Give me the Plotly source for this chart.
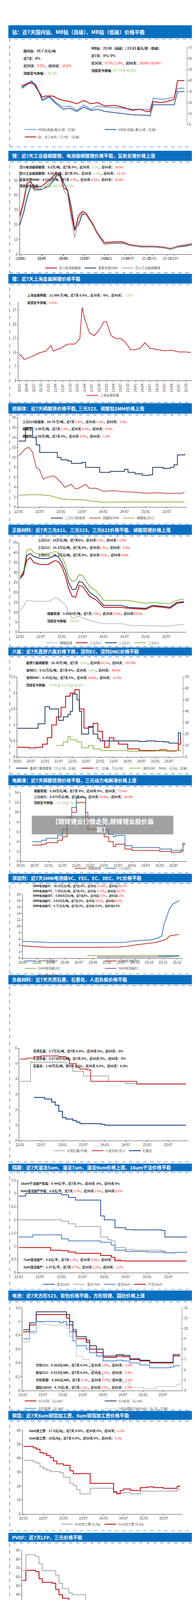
import plotly.graph_objects as go

H = 4275
FONT = "Noto Sans CJK SC"
RED = "#C00000"
NAVY = "#1F3864"
BLUE = "#4472C4"
GRAY = "#A6A6A6"
GREEN = "#8DB849"
R = "#FF0000"
G = "#7CC24A"

# ---------------- data (dates as yy-mm) ----------------
# 钴
co_x_red = ["22-01", "22-03", "22-05", "22-06", "22-07", "22-08", "22-10", "22-12", "23-01", "23-03", "23-05", "23-07", "23-09", "23-11", "24-01", "24-04", "24-06", "24-09", "24-11", "25-01", "25-02", "25-03", "25-05", "25-07", "25-09", "25-10", "25-12"]
co_red = [35, 38, 37, 30, 25, 26, 26, 23, 22, 21, 19, 22, 19, 20, 17, 17.5, 16, 13, 14, 12, 12, 21, 20, 21, 23, 40, 40]
co_x_mb = ["22-01", "22-04", "22-06", "22-07", "22-09", "22-11", "23-01", "23-03", "23-05", "23-07", "23-09", "23-11", "24-01", "24-06", "24-09", "25-01", "25-02", "25-03", "25-06", "25-09", "25-10", "25-12"]
co_mb_high = [34, 40, 30, 23, 26, 20, 16, 17, 13, 18, 14, 17, 16, 15, 14, 14, 13, 24, 23, 25, 33, 33]
co_mb_low = [33, 39, 30, 22, 25, 19, 14, 15, 12, 16, 13, 14, 12, 10, 9, 8.5, 8, 18, 18, 18, 30, 30]

# 锂
li_x = ["22-01", "22-02", "22-03", "22-04", "22-05", "22-07", "22-09", "22-11", "22-12", "23-01", "23-02", "23-03", "23-04", "23-05", "23-06", "23-07", "23-09", "23-10", "23-12", "24-03", "24-05", "24-07", "24-10", "25-01", "25-04", "25-06", "25-08", "25-10", "25-12"]
li_battery = [28, 38, 50, 51, 47, 48, 52, 57, 55, 47, 45, 30, 18, 28, 31, 30, 22, 17, 10, 10.5, 10.5, 8.5, 7.5, 7.5, 7, 6, 7.5, 8.5, 9.3]
li_lioh = [22, 30, 40, 48, 46, 46, 48, 55, 56, 50, 45, 35, 19, 22, 29, 29, 21, 16, 9, 9.5, 9.5, 8, 7, 7, 6.5, 5.5, 7, 7.5, 8.6]
li_industrial = [26, 35, 48, 49, 45, 45.5, 50, 56, 54, 45, 42, 27, 13, 26, 30, 29, 21, 16, 9.2, 9.8, 9.8, 8, 7.2, 7.2, 6.7, 5.8, 7.2, 8.2, 9.05]

# 镍
ni_x = ["20-01", "20-03", "20-06", "20-09", "20-12", "21-02", "21-03", "21-06", "21-09", "21-12", "22-02", "22-03", "22-04", "22-06", "22-08", "22-10", "22-12", "23-01", "23-03", "23-05", "23-07", "23-09", "23-11", "24-01", "24-03", "24-05", "24-07", "24-10", "25-01", "25-04", "25-07", "25-10", "25-12"]
ni_price = [11.5, 9.5, 10.5, 11.8, 12.5, 14.5, 12.5, 13.5, 15, 15, 17, 28, 24, 19, 18, 20, 23, 23, 18, 17, 17, 15.5, 13, 13, 13.5, 15.5, 13.5, 13, 12.6, 12.8, 12.2, 12.2, 12]

# 前驱体
pre_x_523 = ["22-01", "22-02", "22-03", "22-04", "22-05", "22-06", "22-07", "22-10", "22-12", "23-01", "23-03", "23-04", "23-06", "23-07", "23-08", "23-10", "23-12", "24-03", "24-06", "24-07", "24-08", "24-10", "24-12", "25-02", "25-03", "25-04", "25-06", "25-08", "25-09", "25-10", "25-12"]
pre_523 = [13.3, 13.3, 16, 16, 14, 12.5, 11, 11, 10, 9.5, 9.3, 8.8, 8.8, 9, 8, 8, 7, 7.2, 7.2, 7.6, 7, 6.7, 6.4, 6.5, 8, 8, 7.8, 8, 8.5, 10.5, 10.7]
pre_x_co = ["22-01", "22-03", "22-04", "22-05", "22-06", "22-07", "22-08", "22-09", "22-11", "23-01", "23-02", "23-04", "23-05", "23-06", "23-08", "23-09", "23-11", "24-01", "24-04", "24-07", "24-10", "25-01", "25-04", "25-07", "25-11", "25-12"]
pre_coso4 = [10.3, 11.8, 12, 11, 8, 7.5, 5.6, 6, 6.3, 5, 4, 4.6, 3.7, 3.8, 4.6, 3.8, 3.8, 3.2, 3.3, 3.1, 3.0, 2.8, 2.9, 2.8, 2.8, 2.96]
pre_x_fe = ["22-01", "22-04", "22-07", "22-10", "23-01", "23-04", "23-07", "23-10", "24-01", "24-06", "25-01", "25-12"]
pre_fepo4 = [2.4, 2.5, 2.5, 2.3, 1.7, 1.5, 1.5, 1.2, 1.0, 1.05, 1.05, 1.06]

# 正极材料
cat_x_lfp = ["22-01", "22-02", "22-03", "22-06", "22-09", "22-10", "22-11", "22-12", "23-01", "23-02", "23-03", "23-04", "23-05", "23-06", "23-07", "23-09", "23-11", "24-01", "24-06", "24-09", "25-01", "25-06", "25-09", "25-12"]
cat_lfp = [11, 13, 16, 15.5, 15.5, 16, 17.5, 17, 15, 14, 10, 7, 7.5, 8, 7, 6, 5, 4.3, 4.3, 3.3, 3.3, 3.0, 3.4, 3.95]
cat_x = ["22-01", "22-02", "22-03", "22-04", "22-05", "22-07", "22-09", "22-11", "22-12", "23-01", "23-02", "23-03", "23-04", "23-05", "23-06", "23-07", "23-09", "23-11", "24-01", "24-06", "24-08", "25-01", "25-03", "25-06", "25-08", "25-10", "25-12"]
cat_523 = [27, 30, 36, 37.5, 35, 34, 34, 36, 35.5, 33, 28, 22, 18, 17.5, 23.5, 23, 18, 16, 12.5, 12.5, 12, 11.5, 13, 12.5, 12, 14.5, 15]
cat_622 = [27, 29, 38.5, 39.5, 38, 37, 37, 38.5, 38, 35, 31, 25, 21.5, 21.5, 25.5, 25, 20, 17.5, 13.5, 13.5, 12.5, 12, 13.5, 13, 12.5, 15, 15.3]
cat_811 = [28, 31, 41, 42, 40, 39, 39.5, 40.5, 40, 38, 34, 28, 25.5, 26, 29, 28.5, 23, 20.5, 16, 16, 16, 14.5, 15, 14.5, 14.5, 16, 16.7]

# 六氟
f6_x_lipf6 = ["20-01", "20-09", "20-10", "20-12", "21-01", "21-03", "21-06", "21-07", "21-09", "21-11", "21-12", "22-01", "22-02", "22-03", "22-04", "22-05", "22-07", "22-08", "22-09", "22-10", "22-12", "23-01", "23-07", "24-01", "24-06", "24-09", "25-01", "25-05", "25-07", "25-10", "25-11", "25-12"]
f6_lipf6 = [25, 25, 29, 29, 44, 42, 42, 32, 35, 37, 40, 55, 55, 50, 40, 20, 20, 26, 26, 20, 16, 14, 14, 14, 13.5, 14, 13.5, 13, 12, 12, 21, 17]
f6_x_ec = ["20-01", "20-06", "20-09", "20-12", "21-02", "21-04", "21-06", "21-08", "21-10", "21-12", "22-02", "22-04", "22-06", "22-08", "22-10", "22-12", "23-02", "23-03", "23-05", "23-07", "23-09", "24-01", "24-06", "24-12", "25-03", "25-06", "25-10", "25-11", "25-12"]
f6_ec = [0.3, 0.28, 0.3, 0.4, 0.6, 1.0, 1.25, 1.55, 1.9, 2.0, 2.1, 1.5, 0.9, 0.95, 1.05, 0.8, 0.5, 0.3, 0.6, 0.5, 0.4, 0.25, 0.2, 0.2, 0.22, 0.18, 0.2, 0.4, 0.62]
f6_x_dmc = ["21-06", "21-09", "21-11", "21-12", "22-03", "22-05", "22-08", "22-10", "23-01", "23-07", "24-01", "24-07", "25-01", "25-06", "25-12"]
f6_dmc = [10, 13, 18, 15, 13, 8, 10, 7, 5.5, 5.5, 5, 5, 5.2, 5.5, 6.35]

# 电解液
el_x = ["20-06", "20-10", "20-12", "21-03", "21-05", "21-07", "21-09", "21-11", "22-01", "22-04", "22-05", "22-06", "22-10", "23-01", "23-03", "23-05", "23-06", "23-08", "23-10", "24-01", "24-07", "25-01", "25-06", "25-09", "25-10", "25-11", "25-12"]
el_lfp = [3.3, 3.5, 3.8, 3.8, 4.3, 5, 8, 10, 12, 12, 8, 6.5, 6.5, 5, 4, 3, 3.5, 3.5, 2.5, 2.2, 2.2, 2.0, 1.8, 1.8, 2.0, 3.38, 3.38]
el_ncm = [4, 4.3, 4.7, 4.7, 5.3, 6.5, 9, 11, 13, 13, 10, 8.7, 8.5, 6.5, 5.5, 5, 5.3, 5.3, 3.2, 2.8, 2.8, 2.5, 2.2, 2.2, 2.3, 3.67, 3.67]

# 添加剂 (daily dates, 2025)
ad_x_vc = ["2025-05-01", "2025-05-20", "2025-06-10", "2025-07-01", "2025-08-01", "2025-09-01", "2025-09-25", "2025-10-05", "2025-10-20", "2025-11-01", "2025-11-10", "2025-11-15", "2025-11-18", "2025-11-22", "2025-11-26", "2025-12-01", "2025-12-10"]
ad_vc = [5.3, 5.1, 4.9, 4.9, 4.9, 4.9, 5.0, 5.4, 5.6, 5.8, 6.4, 7, 10.5, 13, 15.5, 17, 18.1]
ad_x_fec = ["2025-05-01", "2025-05-20", "2025-06-10", "2025-08-01", "2025-09-15", "2025-09-25", "2025-10-10", "2025-10-25", "2025-11-05", "2025-11-15", "2025-11-22", "2025-11-26", "2025-12-01", "2025-12-10"]
ad_fec = [3.9, 3.6, 3.4, 3.4, 3.5, 3.7, 4.2, 4.6, 4.9, 5.5, 6.0, 7, 7.2, 7.4]
ad_x_dec = ["2025-08-01", "2025-12-10"]
ad_dec = [0.85, 0.89]
ad_x_ec = ["2025-08-15", "2025-11-20", "2025-12-10"]
ad_ec = [0.4, 0.45, 0.62]
ad_x_pc = ["2025-11-10", "2025-12-10"]
ad_pc = [0.7, 0.71]

# 负极材料
an_x_nat = ["22-01", "22-03", "22-04", "23-01", "23-02", "23-04", "23-06", "23-07", "24-01", "24-02", "24-06", "24-07", "25-12"]
an_nat = [3.85, 3.85, 5.1, 5.1, 4.85, 4.5, 4.5, 4.2, 4.2, 3.85, 3.85, 3.7, 3.7]
an_x_art = ["22-01", "22-03", "22-05", "22-07", "22-11", "22-12", "23-02", "23-03", "23-05", "23-06", "23-08", "23-09", "24-01", "24-09", "24-10", "25-12"]
an_art = [5.3, 5.35, 5.45, 5.5, 5.5, 5.45, 5.3, 5.0, 4.75, 4.65, 4.6, 3.85, 3.85, 3.85, 3.67, 3.67]
an_x_gr = ["22-05", "22-08", "22-10", "22-11", "22-12", "23-01", "23-02", "23-04", "23-05", "23-06", "23-12", "24-01", "25-12"]
an_gr = [2.8, 2.7, 2.5, 2.3, 1.9, 1.5, 1.4, 1.3, 1.2, 1.1, 1.05, 1.0, 1.0]

# 隔膜
se_x_5 = ["22-01", "22-03", "23-01", "23-03", "23-05", "23-11", "23-12", "24-01", "24-03", "24-04", "24-07", "24-09", "25-05", "25-06", "25-12"]
se_5 = [2.9, 3.0, 2.95, 2.85, 2.75, 2.75, 2.15, 2.0, 2.0, 1.7, 1.63, 1.62, 1.6, 1.35, 1.37]
se_x_7 = ["22-01", "22-12", "23-01", "23-03", "23-05", "23-11", "23-12", "24-02", "24-03", "24-04", "24-07", "24-09", "25-05", "25-06", "25-09", "25-12"]
se_7 = [2.0, 2.0, 1.95, 1.85, 1.75, 1.75, 1.35, 1.25, 1.2, 0.95, 0.88, 0.85, 0.82, 0.75, 0.77, 0.8]
se_x_9 = ["22-01", "22-05", "23-01", "23-03", "23-11", "23-12", "24-03", "24-04", "24-07", "25-01", "25-06", "25-09", "25-12"]
se_9 = [1.35, 1.43, 1.28, 1.2, 1.2, 1.15, 1.05, 0.85, 0.8, 0.78, 0.75, 0.77, 0.8]
se_x_16 = ["22-01", "22-10", "23-01", "23-03", "23-05", "23-11", "23-12", "24-03", "24-04", "24-07", "25-12"]
se_16 = [0.95, 0.85, 0.83, 0.78, 0.73, 0.73, 0.65, 0.58, 0.45, 0.44, 0.44]

# 电池
ba_x = ["22-01", "22-03", "22-05", "22-12", "23-01", "23-02", "23-03", "23-04", "23-05", "23-08", "23-09", "23-11", "24-01", "24-05", "24-07", "24-09", "24-12", "25-03", "25-09", "25-10", "25-12"]
ba_523sq = [0.85, 0.95, 1.1, 1.1, 1.1, 1.05, 0.95, 0.85, 0.75, 0.7, 0.6, 0.55, 0.48, 0.5, 0.49, 0.45, 0.43, 0.4, 0.4, 0.5, 0.503]
ba_523soft = [0.88, 0.98, 1.14, 1.14, 1.14, 1.1, 1.0, 0.88, 0.78, 0.73, 0.65, 0.6, 0.5, 0.52, 0.51, 0.46, 0.44, 0.41, 0.41, 0.52, 0.523]
ba_lfp = [0.75, 0.85, 1.0, 0.98, 1.0, 0.95, 0.85, 0.72, 0.65, 0.6, 0.55, 0.5, 0.43, 0.44, 0.43, 0.4, 0.37, 0.33, 0.34, 0.36, 0.366]
ba_x_cyl = ["22-01", "22-03", "22-05", "22-07", "22-09", "23-01", "23-02", "23-03", "23-05", "23-07", "23-09", "23-11", "24-01", "24-06", "24-09", "25-01", "25-05", "25-09", "25-11", "25-12"]
ba_cyl = [8.7, 9.5, 10.6, 10.4, 10.3, 10.3, 10, 9.2, 7.3, 7.0, 6.0, 5.6, 5.1, 4.8, 4.3, 4.2, 4.4, 4.4, 4.6, 4.75]

# 铜箔
cu_x_6 = ["22-01", "22-04", "22-05", "22-06", "22-07", "22-08", "22-09", "22-10", "22-11", "23-01", "23-03", "23-04", "23-09", "24-04", "24-05", "24-06", "24-07", "24-09", "24-12", "25-02", "25-04", "25-07", "25-11", "25-12"]
cu_6 = [48.5, 47.5, 46.5, 44, 43.5, 42, 40.5, 38, 36, 35, 31, 29, 22, 16, 14.5, 17, 18, 17, 19, 19.5, 19, 18.5, 20, 20]
cu_x_8 = ["22-01", "22-04", "22-05", "22-06", "22-07", "22-08", "22-09", "22-12", "23-01", "23-03", "23-04", "23-05", "23-06", "23-09", "24-04", "24-05", "24-07", "24-09", "24-12", "25-11", "25-12"]
cu_8 = [38.5, 37.5, 36.5, 34, 32.5, 31.5, 30.5, 29.5, 26.5, 22, 20.5, 17.5, 14.5, 18.5, 15.5, 15, 15.5, 14.5, 16.5, 17.5, 17.5]

# PVDF
pv_x_ncm = ["22-01", "22-02", "22-05", "22-06", "22-07", "22-11", "22-12", "23-01", "23-03", "23-04", "23-08", "23-10", "23-12", "24-04", "24-06", "24-10", "25-12"]
pv_ncm = [67, 85, 83, 75, 67, 62, 53, 47, 42, 40, 32, 21, 19, 15, 12, 11.95, 11.95]
pv_x_lfp = ["22-01", "22-02", "22-05", "22-06", "22-07", "22-10", "22-11", "22-12", "23-01", "23-03", "23-04", "23-07", "23-08", "23-11", "24-04", "24-10", "25-01", "25-12"]
pv_lfp = [56, 67.5, 66, 58, 54, 53, 46, 40, 36, 33, 27, 21, 13.5, 11, 6, 5.6, 6, 6]


def d(xs):
    return ["20" + s for s in xs]


def py(y):
    return 1 - y / H


fig = go.Figure()
layout = dict(width=500, height=H, margin=dict(l=0, r=0, t=0, b=0),
              paper_bgcolor="white", plot_bgcolor="rgba(0,0,0,0)",
              font=dict(family=FONT, size=8, color="#404040"), showlegend=True)
shapes, annos = [], []

# panel: title, title top, title bottom, box bottom, plot top, plot bottom, x range, y range, dtick, x fmt, x0, x1
panels = [
    ("钴：近7天国内钴、MB钴（高级）、MB钴（低级）价格平稳", 50, 83, 362, 107, 305, ["2021-12-25", "2025-12-20"], [0.05, 0.47], 0.06, "%y-%m", 0.07, 0.94),
    ("锂：近7天工业级碳酸锂、电池级碳酸锂价格平稳，氢氧化锂价格上涨", 372, 398, 685, 425, 638, ["2022-01-01", "2025-12-15"], [2, 58], 10, "%y/%m", 0.065, 0.98),
    ("镍：近7天上海金属网镍价格平稳", 688, 713, 1018, 760, 962, ["2019-12-20", "2025-12-20"], [2, 30], 5, "%y/%m", 0.058, 0.97),
    ("前驱体：近7天磷酸铁价格平稳, 三元523、硫酸钴SMM价格上涨", 1020, 1047, 1330, 1057, 1287, ["2021-12-25", "2025-12-20"], [0, 18], 2, "%y/%m", 0.055, 0.94),
    ("正极材料：近7天三元811、三元523、三元622价格平稳、磷酸铁锂价格上涨", 1332, 1358, 1645, 1378, 1608, ["2021-12-25", "2025-12-20"], [0, 45], 5, "%y/%m", 0.062, 0.937),
    ("六氟：近7天鑫锣六氟价格下跌，溶剂EC、溶剂DMC价格平稳", 1647, 1668, 1972, 1723, 1928, ["2020-01-01", "2025-12-31"], [0, 2.5], 0.5, "%y/%m", 0.052, 0.92),
    ("电解液：近7天磷酸铁锂价格平稳，三元动力电解液价格上涨", 1975, 2001, 2225, 2020, 2196, ["2020-01-01", "2025-12-20"], [0, 14], 2, "%y/%m", 0.07, 0.94),
    ("添加剂：近7天SMM电池级VC、FEC、EC、DEC、PC价格平稳", 2228, 2250, 2485, 2281, 2445, ["2025-05-01", "2025-12-15"], [0, 20], 2, "%y/%m", 0.08, 0.92),
    ("负极材料：近7天天然石墨、石墨化、人造负极价格平稳", 2488, 2512, 2968, 2676, 2913, ["2021-12-25", "2025-12-20"], [0, 6], 1, "%y/%m", 0.062, 0.948),
    ("隔膜：近7天湿法5um、湿法7um、湿法9um价格上涨、16um干法价格平稳", 2972, 2992, 3295, 3015, 3252, ["2021-12-25", "2025-12-20"], [0, 3.5], 0.5, "%y/%m", 0.055, 0.95),
    ("电池：近7天方形523、软包价格平稳，方形铁锂、圆柱价格上涨", 3298, 3324, 3605, 3342, 3555, ["2021-12-25", "2025-12-20"], [0, 1.2], 0.2, "%y/%m", 0.078, 0.915),
    ("铜箔：近7天8um铜箔加工费、6um铜箔加工费价格平稳", 3607, 3630, 3915, 3657, 3872, ["2021-12-25", "2025-12-20"], [0, 60], 10, "%y/%m", 0.08, 0.918),
    ("PVDF：近7天LFP、三元价格平稳", 3920, 3943, 4272, 3965, 4170, ["2021-12-25", "2025-12-20"], [0, 90], 10, "%y/%m", 0.075, 0.91),
]

AX = dict(showgrid=False, showline=True, linecolor="#404040", ticks="outside", ticklen=3,
          tickfont=dict(size=8.5), zeroline=False)

for i, (title, t0, t1, b1, p0, p1, xr, yr, dt, xf, x0, x1) in enumerate(panels, start=1):
    shapes.append(dict(type="rect", xref="paper", yref="paper", x0=0.005, x1=0.99, y0=py(t1), y1=py(t0),
                       fillcolor="#0B6FC0", line=dict(width=0), layer="below"))
    shapes.append(dict(type="rect", xref="paper", yref="paper", x0=0.012, x1=0.985, y0=py(b1), y1=py(t1 + 3),
                       line=dict(color="#2E5FA8", width=1.2, dash="dash"), fillcolor="rgba(0,0,0,0)"))
    annos.append(dict(text="<b>" + title + "</b>", xref="paper", yref="paper", x=0.02, y=py((t0 + t1) / 2),
                      xanchor="left", yanchor="middle", showarrow=False,
                      font=dict(color="white", size=12 if i > 1 else 13, family=FONT)))
    sfx = "" if i == 1 else str(i)
    layout["xaxis" + sfx] = dict(domain=[x0, x1], anchor="y" + sfx, type="date", range=xr,
                                 tickformat=xf, dtick="M6", tick0="2022-01-01", **AX)
    layout["yaxis" + sfx] = dict(domain=[py(p1), py(p0)], anchor="x" + sfx, range=yr, dtick=dt, **AX)

# special axis tweaks
layout["yaxis2"].update(tickvals=[2, 12, 22, 32, 42, 52])
layout["yaxis3"].update(tickvals=[2, 7, 12, 17, 22, 27])
layout["xaxis3"].update(dtick="M3", tickangle=-90, tick0="2020-01-01")
layout["xaxis6"].update(tick0="2020-01-01")
layout["xaxis7"].update(tick0="2020-01-01")
layout["xaxis8"].update(dtick=20 * 86400000, tick0="2025-05-01")
# right-hand axes: separate axes sharing the panel's domain
RAX = dict(AX, linecolor="#808080")
layout["yaxis14"] = dict(domain=layout["yaxis"]["domain"], side="right", anchor="x", range=[0, 70], dtick=10, **RAX)
layout["yaxis15"] = dict(domain=layout["yaxis6"]["domain"], side="right", anchor="x6", range=[0, 70], dtick=10, **RAX)
layout["yaxis16"] = dict(domain=layout["yaxis11"]["domain"], side="right", anchor="x11", range=[4, 12], dtick=1, **RAX)


def line(x, y, name, color, ax, leg, width=2, shape="linear", yax=None):
    fig.add_trace(go.Scatter(x=x, y=y, name=name, mode="lines", line=dict(color=color, width=width, shape=shape),
                             xaxis="x" + ("" if ax == 1 else str(ax)),
                             yaxis=yax or ("y" + ("" if ax == 1 else str(ax))),
                             legend="legend" + ("" if leg == 1 else str(leg))))


line(d(co_x_mb), co_mb_high, "MB钴(高级)美元/磅（左轴）", "#5B8FD0", 1, 1, yax="y14")
line(d(co_x_mb), co_mb_low, "MB钴(低级) 美元/磅（左轴）", "#2F5597", 1, 1, yax="y14")
line(d(co_x_red), co_red, "钴：长江有色（万/吨）（右轴）", RED, 1, 1, yax="y14")

line(d(li_x), li_battery, "百川电池碳酸锂", RED, 2, 2)
line(d(li_x), li_lioh, "氢氧化锂SMM", NAVY, 2, 2)
line(d(li_x), li_industrial, "百川工业级碳酸锂", GRAY, 2, 2)

line(d(ni_x), ni_price, "上海金属网镍", RED, 3, 3, width=1.5)

line(d(pre_x_523), pre_523, "三元523前驱体", NAVY, 4, 4, shape="hv")
line(d(pre_x_co), pre_coso4, "硫酸钴SMM", "#C0504D", 4, 4)
line(d(pre_x_fe), pre_fepo4, "磷酸铁(百川)", GREEN, 4, 4)

line(d(cat_x_lfp), cat_lfp, "磷酸铁锂", "#BFBFBF", 5, 5)
line(d(cat_x), cat_523, "三元523", RED, 5, 5)
line(d(cat_x), cat_622, "三元622", NAVY, 5, 5)
line(d(cat_x), cat_811, "三元811", GREEN, 5, 5)

line(d(f6_x_lipf6), f6_lipf6, "鑫锣六氟磷酸锂（万元/吨，右轴）", NAVY, 6, 6, shape="hv", yax="y15")
line(d(f6_x_ec), f6_ec, "EC（左轴，万元/吨）", RED, 6, 6, shape="hv")
line(d(f6_x_dmc), f6_dmc, "溶剂DMC（SMM，元/kg，右轴）", GREEN, 6, 6, shape="hv", yax="y15")

line(d(el_x), el_lfp, "磷酸铁锂", "#C0392B", 7, 7, shape="hv")
line(d(el_x), el_ncm, "三元动力", "#4A7CC2", 7, 7, shape="hv")

line(ad_x_vc, ad_vc, "SMM电池级VC", "#4A7CC2", 8, 8)
line(ad_x_fec, ad_fec, "SMM电池级FEC", "#C0392B", 8, 8)
line(ad_x_dec, ad_dec, "SMM电池级DEC", GREEN, 8, 8)
line(ad_x_ec, ad_ec, "SMM电池级EC", "#7E5BA6", 8, 8)
line(ad_x_pc, ad_pc, "SMM电池级PC", "#4BACC6", 8, 8)

line(d(an_x_nat), an_nat, "天然石墨(中端)", GRAY, 9, 9, shape="hv")
line(d(an_x_art), an_art, "人造负极-百川", "#D05050", 9, 9, width=2.5, shape="hv")
line(d(an_x_gr), an_gr, "石墨化", "#2F5597", 9, 9, width=2.5, shape="hv")

line(d(se_x_5), se_5, "湿法5um", "#2F5597", 10, 10, shape="hv")
line(d(se_x_7), se_7, "湿法7um", GRAY, 10, 10, shape="hv")
line(d(se_x_9), se_9, "湿法9um", "#4A7CC2", 10, 10, shape="hv")
line(d(se_x_16), se_16, "干法16um", RED, 10, 10, shape="hv")

line(d(ba_x), ba_523sq, "523方形（元/wh）", RED, 11, 11, shape="hv")
line(d(ba_x), ba_523soft, "523软包（元/wh）", NAVY, 11, 11, shape="hv")
line(d(ba_x), ba_lfp, "方形铁锂（元/wh）", "#4A86D8", 11, 11, shape="hv")
line(d(ba_x_cyl), ba_cyl, "18650圆柱2500mAh（元/支，右轴）", "#BFBFBF", 11, 11, width=1.5, shape="hv", yax="y16")

line(d(cu_x_8), cu_8, "8um加工费(元/kg)", GRAY, 12, 12, shape="hv")
line(d(cu_x_6), cu_6, "6um加工费(元/kg)", RED, 12, 12, shape="hv")

line(d(pv_x_lfp), pv_lfp, "LFP(万/吨)", RED, 13, 13, shape="hv")
line(d(pv_x_ncm), pv_ncm, "三元(万/吨)", GRAY, 13, 13, shape="hv")

# legends
legend_pos = {1: 327, 2: 673, 3: 1000, 4: 1315, 5: 1635, 6: 1957, 7: 2214, 8: 2471, 9: 2939, 10: 3282, 11: 3591, 12: 3898, 13: 4197}
for k, y in legend_pos.items():
    key = "legend" + ("" if k == 1 else str(k))
    layout[key] = dict(orientation="h", x=0.5, xanchor="center", y=py(y), yanchor="middle",
                       bgcolor="rgba(0,0,0,0)", font=dict(size=8, color="#595959"), itemwidth=30,
                       tracegroupgap=0)
for k in (1, 8, 11):
    key = "legend" + ("" if k == 1 else str(k))
    layout[key].update(entrywidth=0.42, entrywidthmode="fraction", x=0.08, xanchor="left")


def txt(x, y, s, size=8.5, anchor="left"):
    annos.append(dict(text=s, xref="paper", yref="paper", x=x, y=py(y), xanchor=anchor, yanchor="middle",
                      showarrow=False, font=dict(size=size, color="#1a1a1a", family=FONT), align="left"))


def r(s):
    return "<span style='color:%s'>%s</span>" % (R, s)


def g(s):
    return "<span style='color:%s'>%s</span>" % (G, s)


# 钴
txt(0.08, 115, "<b>国内钴：39.7 万元/吨</b>")
txt(0.08, 134, "<b>近7天：0%</b>")
txt(0.08, 153, "<b>近30天：</b>" + r("0.5%") + "<b>，近60天：</b>" + r("10.6%"))
txt(0.08, 172, "<b>顶部至今跌幅：</b>" + g("-31.3%"))
txt(0.435, 108, "<b>MB钴：25.00（高级）/ 23.83 美元/磅（低级）</b>")
txt(0.435, 127, "<b>近7天：0%/ 0%</b>")
txt(0.435, 146, "<b>近30天：</b>" + r("0.7%/ 1.0%") + "<b>，近60天：</b>" + r("14.9% /19.4%"))
txt(0.435, 165, "<b>顶部至今跌幅 </b>" + g("-37.7%") + "<b> / </b>" + g("-40.6%"))
# 锂
txt(0.06, 414, "<b>百川电池级碳酸锂：9.3万/吨，近7天 0%，近30天 </b>" + g("-2.1%") + "<b>，近60天：</b>" + r("24.0%"), 8)
txt(0.06, 430, "<b>百川工业级碳酸锂：9.05万/吨，近7天 0%，近30天 </b>" + g("-1.6%") + "<b>，近60天：</b>" + r("23.1%"), 8)
txt(0.06, 446, "<b>氢氧化锂SMM：8.628万/吨，近7天 </b>" + r("3.9%") + "<b>，近30天 </b>" + r("9.1%") + "<b>，近60天：</b>" + r("18.0%"), 8)
txt(0.06, 462, "<b>顶部至今跌幅：</b>" + g("-84.3%/-84.1%/-85.5%"), 8)
# 镍
txt(0.1, 743, "<b>上海金属网镍：11.996 万/吨，近7天 0.0%，近30天：0%，近60天：</b>" + g("-2.1%"), 8)
txt(0.1, 762, "<b>底部至今涨幅：</b>" + r("0.9 %"), 8)
# 前驱体
txt(0.075, 1067, "<b>三元523前驱体：10.70 万/吨，近7天 </b>" + r("1.4%") + "<b>，近30天 </b>" + r("1.4%") + "<b>，近60天：</b>" + r("3.4%"), 8)
txt(0.075, 1086, "<b>硫酸钴：2.96万/吨，近7天 </b>" + r("5.3%") + "<b>，近30天 </b>" + r("8.0%") + "<b>，近60天：</b>" + r("8.0%"), 8)
txt(0.075, 1105, "<b>磷酸铁：1.06万/吨，近7天 0%，近30天 </b>" + r("1.0%") + "<b>，近60天：</b>" + r("1.0%"), 8)
# 正极
txt(0.155, 1371, "<b>三元523：15万元/吨，近7天0%，近30天</b>" + r("1.4%") + "<b>，近60天：</b>" + r("6.8%"), 8)
txt(0.155, 1390, "<b>三元622：15.3万元/吨，近7天 0%，近30天</b>" + r("1.3%") + "<b>，近60天：</b>" + r("5.9%"), 8)
txt(0.155, 1409, "<b>三元811：16.7万元/吨，近7天 0%，近30天 </b>" + r("0.6%") + "<b>，近60天 </b>" + r("4.4%"), 8)
txt(0.205, 1560, "<b>磷酸铁锂：3.9520万/吨，近7天 </b>" + r("1.9%") + "<b>，近30天 </b>" + r("5.6%") + "<b>，近60天</b>" + r("18.2%"), 8)
txt(0.205, 1579, "<b>顶部至今跌幅：</b>" + g("-76.8%"), 8)
# 六氟
txt(0.095, 1686, "<b>鑫锣六氟磷酸锂：16.95万/吨，近7天 </b>" + g("-2.0%") + "<b>，近30天</b>" + r("14.1%") + "<b>，近60天：</b>" + r("167.8%"), 8)
txt(0.095, 1705, "<b>溶剂EC：0.62万元/吨，近7天 0%，近30天 </b>" + g("-1.6%") + "<b>，近60天：</b>" + r("44.2%"), 8)
txt(0.095, 1724, "<b>溶剂DMC：6.35元/kg，近7天 0%，近30天 </b>" + r("14.4%") + "<b>，近60天：</b>" + r("16.5%"), 8)
txt(0.095, 1743, "<b>顶部至今跌幅：</b>" + g("-70.8%") + "<b> / </b>" + g("-51.2%") + "<b> / </b>" + g("-62.4%"), 8)
# 电解液
txt(0.135, 2015, "<b>磷酸铁锂：3.38万元/吨，近7天 0%，近30天 0%，近60天：</b>" + r("72.4%"), 8)
txt(0.135, 2030, "<b>三元动力：3.675万元/吨，近7天 0%，近30天 </b>" + r("33.6%") + "<b>，近60天：</b>" + r("64.8%"), 8)
txt(0.135, 2045, "<b>顶部至今跌幅：</b>" + g("-72.1%") + "<b> / </b>" + g("-72.3%"), 8)
# 添加剂
txt(0.128, 2259, "<b>SMM电池级VC：18.10万元/吨，近7天 0%，近30天 </b>" + r("31.60%") + "<b>，近60天</b>" + r("265.7%"), 7)
txt(0.128, 2272, "<b>SMM电池级FEC：7.40万元/吨，近7天 0%，近30天 </b>" + r("17.5%") + "<b>，近60天</b>" + r("102.7%"), 7)
txt(0.128, 2284, "<b>SMM电池级DEC：0.8925万元/吨，近7天0%，近30天 </b>" + r("0.3%") + "<b>，近60天</b>" + r("0.3%"), 7)
txt(0.128, 2297, "<b>SMM电池级EC：0.62万元/吨，近7天 0%，近30天 </b>" + r("34.8%") + "<b>，近60天</b>" + r("44.2%"), 7)
txt(0.128, 2310, "<b>SMM电池级PC：0.71万元/吨，近7天 0%，近30天 0.0%，近60天0.0%</b>", 7)
# 负极
txt(0.13, 2683, "<b>天然石墨：3.7万元/吨，近7天 0.0%，近30天 0%，近60天：0%</b>", 8)
txt(0.13, 2702, "<b>人造负极：3.6738万元/吨，近7天 0%，近30天 0%，近60天：0%</b>", 8)
txt(0.13, 2721, "<b>石墨化：1.00万元/吨，近7天 0.0%，近30天 0.0%，近60天：0.0%</b>", 8)
# 隔膜
txt(0.065, 3023, "<b>16um干法国产低端：0.44元/平，近7天 0%，近30天  0%，近60天 0%</b>", 8)
txt(0.065, 3042, "<b>9um湿法国产中端：0.8元/平，近7天 </b>" + r("1.3%") + "<b>，近30天 </b>" + r("2.6%") + "<b>，近60天 </b>" + r("5.2%"), 8)
txt(0.08, 3219, "<b>7um湿法国产：0.8元/平，近7天 </b>" + r("1.3%") + "<b>，近30天 </b>" + r("3.8%") + "<b>，近60天：</b>" + r("5.2%"), 8)
txt(0.08, 3238, "<b>5um湿法国产：1.37元/平，近7天 </b>" + r("0.7%") + "<b>，近30天 </b>" + r("2.2%") + "<b>，近60天：</b>" + r("2.2%"), 8)
# 电池
txt(0.145, 3489, "<b>方形523：0.503元/Wh，近7天 0.0%，近30天 </b>" + r("1.0%") + "<b>，近60天：</b>" + r("2.0%"), 8)
txt(0.145, 3508, "<b>软包523：0.523元/Wh，近7天 0.0%，近30天 </b>" + r("1.6%") + "<b>，近60天：</b>" + r("2.5%"), 8)
txt(0.145, 3527, "<b>方形铁锂：0.366元/Wh，近7天 </b>" + r("0.3%") + "<b>，近30天 </b>" + r("1.1%") + "<b>，近60天：</b>" + r("1.1%"), 8)
txt(0.145, 3546, "<b>圆柱18650：4.75元/支，近7天 </b>" + r("1.1%") + "<b>，近30天 </b>" + r("5.7%") + "<b>，近60天：</b>" + r("6.7%"), 8)
# 铜箔
txt(0.11, 3658, "<b>8um加工费：17.5元/kg，近7天 0.0%，近30天 0%，近60天：</b>" + r("6.1%"), 8)
txt(0.11, 3677, "<b>6um加工费：20元/kg，近7天 0.0%，近30天 0%，近60天：</b>" + r("8.1%"), 8)
# PVDF
txt(0.105, 4139, "<b>LFP：6 万元/吨，近7天 0%，近30天 0%，近60天：</b>" + r("6.2%"), 8)
txt(0.105, 4156, "<b>三元：11.95万元/吨，近7天 0%，近30天 0%，近60天：0%</b>", 8)

# overlay caption box
shapes.append(dict(type="rect", xref="paper", yref="paper", x0=0.128, x1=0.87, y0=py(2127), y1=py(2079),
                   fillcolor="rgba(110,110,110,0.65)", line=dict(width=0)))
annos.append(dict(text="<b>【赣锋锂业行情走势,赣锋锂业股价最<br>新】</b>", xref="paper", yref="paper",
                  x=0.5, y=py(2103), xanchor="center", yanchor="middle", showarrow=False,
                  font=dict(size=16, color="white", family=FONT)))

layout["shapes"] = shapes
layout["annotations"] = annos
fig.update_layout(layout)
fig.write_html("out.html")
